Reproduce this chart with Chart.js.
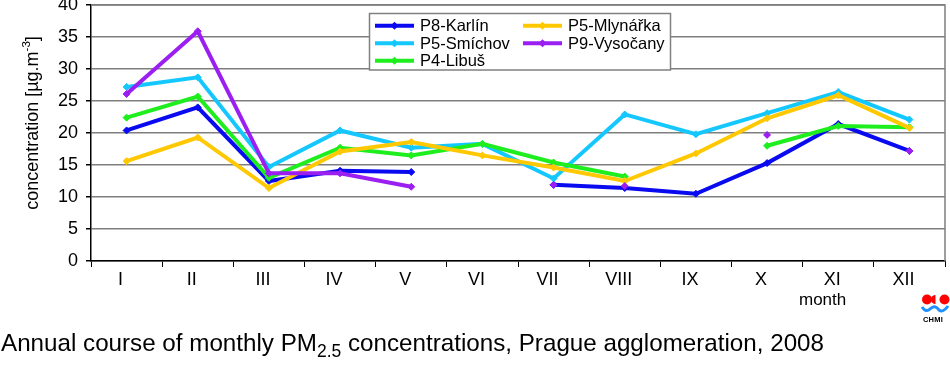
<!DOCTYPE html>
<html><head><meta charset="utf-8">
<script src="https://cdn.jsdelivr.net/npm/chart.js@4.4.1/dist/chart.umd.min.js"></script>
<style>
html,body{margin:0;padding:0;background:#fff;}
#wrap{position:relative;width:950px;height:369px;font-family:"Liberation Sans",Arial,sans-serif;color:#000;overflow:hidden;}
#c{position:absolute;left:0;top:0;}
#caption{position:absolute;left:1px;top:329px;font-size:24.2px;line-height:27px;white-space:nowrap;}
#caption sub{font-size:17.5px;vertical-align:-6px;line-height:0;}
#month{position:absolute;left:799px;top:290px;font-size:17px;line-height:20px;}
#chmi{position:absolute;left:923px;top:315px;font-size:7.5px;font-weight:bold;line-height:9px;letter-spacing:0.2px;}
</style>
</head><body>
<div id="wrap">
<canvas id="c" width="950" height="369"></canvas>
<div id="month">month</div>
<div id="caption">Annual course of monthly PM<sub>2.5</sub> concentrations, Prague agglomeration, 2008</div>
<div id="chmi">CHMI</div>
</div>
<script>
const months = ['I','II','III','IV','V','VI','VII','VIII','IX','X','XI','XII'];
const yTicks = [0,5,10,15,20,25,30,35,40];
const seriesNames = ['P8-Karlín','P5-Smíchov','P4-Libuš','P5-Mlynářka','P9-Vysočany'];
const karlin   = [20.4, 24.0, 12.5, 14.1, 13.9, null, 11.9, 11.4, 10.5, 15.3, 21.4, 17.2];
const smichov  = [27.2, 28.7, 14.7, 20.4, 17.7, 18.3, 12.9, 22.9, 19.8, 23.1, 26.4, 22.1];
const libus    = [22.4, 25.7, 13.0, 17.7, 16.5, 18.3, 15.4, 13.2, null, 18.0, 21.1, 20.9];
const mlynarka = [15.6, 19.3, 11.4, 17.1, 18.6, 16.5, 14.6, 12.5, 16.8, 22.3, 25.9, 20.8];
const vysocany = [26.1, 35.9, 13.7, 13.7, 11.6, null, 11.9, 11.7, null, 19.7, null, 17.2];
const colors = ['#0a0af0','#14c8ff','#1eee1e','#ffc800','#9a1ff0'];
const allData = [karlin, smichov, libus, mlynarka, vysocany];

const FONT = '"Liberation Sans", Arial, sans-serif';

const datasets = allData.map((d,i)=>({
  label: seriesNames[i],
  data: d,
  borderColor: colors[i],
  backgroundColor: colors[i],
  borderWidth: 4,
  pointStyle: 'rectRot',
  pointRadius: 3.5,
  pointBorderWidth: 1,
  pointBackgroundColor: colors[i],
  pointBorderColor: colors[i],
  spanGaps: false,
  tension: 0,
  order: 5 - i,
  segment: i === 4 ? { borderColor: ctx => ctx.p0DataIndex === 6 ? 'rgba(0,0,0,0)' : undefined } : undefined
}));

const decor = {
  id: 'decor',
  beforeDatasetsDraw(chart) {
    const {ctx, chartArea: a} = chart;
    ctx.save();
    ctx.strokeStyle = '#7f7f7f';
    ctx.lineWidth = 1.5;
    ctx.beginPath();
    ctx.moveTo(a.left, a.top); ctx.lineTo(a.right, a.top); ctx.lineTo(a.right, a.bottom);
    ctx.stroke();
    ctx.restore();
  },
  afterDraw(chart) {
    const {ctx, chartArea: a} = chart;
    ctx.save();
    // y title
    ctx.translate(33, 123);
    ctx.rotate(-Math.PI/2);
    ctx.fillStyle = '#000';
    ctx.textBaseline = 'middle';
    const main = 'concentration [µg.m';
    ctx.font = '18px ' + FONT;
    const w1 = ctx.measureText(main).width;
    ctx.font = '11.5px ' + FONT;
    const w2 = ctx.measureText('-3').width;
    ctx.font = '18px ' + FONT;
    const w3 = ctx.measureText(']').width;
    let x = -(w1 + w2 + w3) / 2;
    ctx.textAlign = 'left';
    ctx.fillText(main, x, 0); x += w1;
    ctx.font = '11.5px ' + FONT;
    ctx.fillText('-3', x, -6); x += w2;
    ctx.font = '18px ' + FONT;
    ctx.fillText(']', x, 0);
    ctx.restore();

    // legend
    ctx.save();
    ctx.fillStyle = '#fff';
    ctx.fillRect(369.5, 13.5, 301, 56.5);
    ctx.strokeStyle = '#808080';
    ctx.lineWidth = 1.5;
    ctx.strokeRect(369.5, 13.5, 301, 56.5);
    const pos = [[375,25.7],[375,43.3],[375,60.7],[523,25.7],[523,43.3]];
    ctx.font = '16.5px ' + FONT;
    ctx.textBaseline = 'middle';
    ctx.textAlign = 'left';
    for (let i = 0; i < 5; i++) {
      const [lx, ly] = pos[i];
      ctx.strokeStyle = colors[i];
      ctx.lineWidth = 4;
      ctx.beginPath(); ctx.moveTo(lx, ly); ctx.lineTo(lx + 39, ly); ctx.stroke();
      ctx.fillStyle = colors[i];
      const cx = lx + 19.5, r = 4;
      ctx.beginPath(); ctx.moveTo(cx, ly - r); ctx.lineTo(cx + r, ly); ctx.lineTo(cx, ly + r); ctx.lineTo(cx - r, ly); ctx.closePath(); ctx.fill();
      ctx.fillStyle = '#000';
      ctx.fillText(seriesNames[i], lx + 45, ly + 1);
    }
    ctx.restore();

    // CHMI logo marks
    ctx.save();
    ctx.fillStyle = '#ff0000';
    ctx.beginPath(); ctx.arc(927, 299.5, 5, 0, Math.PI*2); ctx.fill();
    ctx.beginPath(); ctx.arc(944.5, 299.5, 5, 0, Math.PI*2); ctx.fill();
    ctx.beginPath(); ctx.arc(935.5, 299.5, 4.5, Math.PI*0.5, Math.PI*1.5); ctx.fill();
    ctx.strokeStyle = '#1e90ff';
    ctx.lineWidth = 3;
    ctx.beginPath();
    ctx.moveTo(922, 307);
    ctx.quadraticCurveTo(926, 313, 930, 309);
    ctx.quadraticCurveTo(935, 304, 939, 310);
    ctx.quadraticCurveTo(943, 313, 948, 306);
    ctx.stroke();
    ctx.restore();
  }
};

new Chart(document.getElementById('c'), {
  type: 'line',
  data: { labels: months, datasets },
  options: {
    responsive: false,
    animation: false,
    devicePixelRatio: 1,
    layout: { padding: { top: 5, right: 5, left: 0, bottom: 0 } },
    plugins: { legend: { display: false }, tooltip: { enabled: false } },
    scales: {
      x: {
        type: 'category',
        offset: true,
        grid: { offset: true, drawOnChartArea: false, tickLength: 6, color: '#000', lineWidth: 1 },
        border: { display: true, color: '#000', width: 1.5 },
        ticks: { color: '#000', font: { family: FONT, size: 18 }, padding: 2, labelOffset: -6, maxRotation: 0, autoSkip: false },
        afterFit(s) { s.height = 108; s.paddingLeft = 0; s.paddingRight = 0; }
      },
      y: {
        min: 0, max: 40,
        afterBuildTicks(s) { s.ticks = yTicks.map(v => ({ value: v })); },
        grid: { color: '#7f7f7f', lineWidth: 1.5, tickLength: 5, tickColor: '#000' },
        border: { display: true, color: '#000', width: 1.5 },
        ticks: { color: '#000', font: { family: FONT, size: 18 }, padding: 8 },
        afterFit(s) { s.width = 91; s.paddingTop = 0; s.paddingBottom = 0; }
      }
    }
  },
  plugins: [decor]
});
</script>
</body></html>
